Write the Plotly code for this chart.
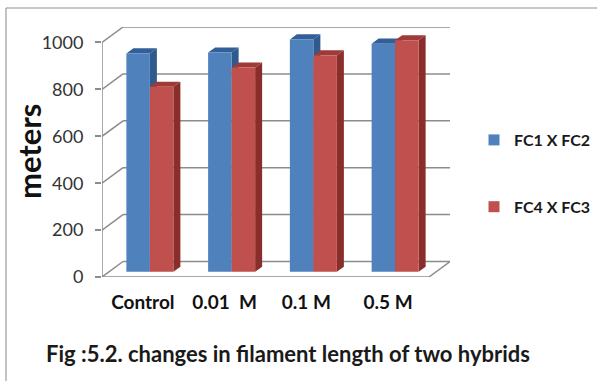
import plotly.graph_objects as go

# ---------------- data ----------------
categories = ["Control", "0.01\u00a0\u00a0M", "0.1 M", "0.5 M"]
series_names = ["FC1 X FC2", "FC4 X FC3"]
fc1_fc2 = [931, 935, 991, 973]
fc4_fc3 = [789, 871, 923, 987]
y_ticks = [0, 200, 400, 600, 800, 1000]
title_text = "Fig :5.2. changes in filament length of two hybrids"
y_title = "meters"

series_values = [fc1_fc2, fc4_fc3]
colors = {
    "front": ["#4F81BD", "#C0504D"],
    "side": ["#2F5A8E", "#8A2E2C"],
    "top": ["#335F99", "#A03A37"],
}

# ---------------- geometry / layout ----------------
W, H = 597, 381
L, R, T, B = 102, 450, 27, 277          # plot area in px
FONT = "Lato"
GRID = "#8C8C8C"

n = len(categories)
DX = 0.257          # depth offset of back wall (x units)
DY = 66             # depth offset of back wall (y units)
xr = [-0.5, n - 0.5 + DX]
yr = [0, max(y_ticks) + DY]

bw = 0.2875         # bar width (x units)
d, e = DX / 3, DY / 3   # bar depth
base = DY / 3


def px_x(p):
    return (p - L) / (R - L)


def px_y(p):
    return (B - p) / (B - T)


fig = go.Figure()

# faces drawn in paint order: series 0 (side, top, front), then series 1
for s, vals in enumerate(series_values):
    polys = {"side": ([], []), "top": ([], []), "front": ([], [])}
    for i, v in enumerate(vals):
        left = i + DX / 3 - bw + s * bw
        right = left + bw
        top = base + v
        faces = {
            "front": [(left, base), (right, base), (right, top), (left, top)],
            "side": [(right, base), (right + d, base + e), (right + d, top + e), (right, top)],
            "top": [(left, top), (right, top), (right + d, top + e), (left + d, top + e)],
        }
        for k, pts in faces.items():
            xs, ys = polys[k]
            xs.extend([p[0] for p in pts] + [pts[0][0], None])
            ys.extend([p[1] for p in pts] + [pts[0][1], None])
    for k in ["side", "top", "front"]:
        xs, ys = polys[k]
        fig.add_trace(go.Scatter(
            x=xs, y=ys, mode="lines", fill="toself",
            fillcolor=colors[k][s], line=dict(width=0, color=colors[k][s]),
            showlegend=False, hoverinfo="skip",
        ))

# legend entries
for s, name in enumerate(series_names):
    fig.add_trace(go.Scatter(
        x=[None], y=[None], mode="markers", name=name,
        marker=dict(symbol="square", size=11, color=colors["front"][s]),
        legendgroup=name,
    ))

shapes = []
# back wall gridlines and left-wall diagonals
for v in y_ticks:
    shapes.append(dict(type="line", xref="x", yref="y", x0=-0.5 + DX, x1=n - 0.5 + DX,
                       y0=v + DY, y1=v + DY, line=dict(color=GRID, width=1.5), layer="below"))
    shapes.append(dict(type="line", xref="x", yref="y", x0=-0.5, x1=-0.5 + DX,
                       y0=v, y1=v + DY, line=dict(color=GRID, width=1.5), layer="below"))
# floor front edge & right diagonal
shapes.append(dict(type="line", xref="x", yref="y", x0=-0.5, x1=n - 0.5, y0=0, y1=0,
                   line=dict(color=GRID, width=1.5), layer="below"))
shapes.append(dict(type="line", xref="x", yref="y", x0=n - 0.5, x1=n - 0.5 + DX, y0=0, y1=DY,
                   line=dict(color=GRID, width=1.5), layer="below"))
# front vertical axis
shapes.append(dict(type="line", xref="x", yref="y", x0=-0.5, x1=-0.5, y0=0, y1=max(y_ticks),
                   line=dict(color=GRID, width=1.5), layer="below"))
# x ticks at category boundaries
for k in range(n + 1):
    shapes.append(dict(type="line", xref="x", yref="y", x0=k - 0.5, x1=k - 0.5,
                       ysizemode="pixel", yanchor=0, y0=0, y1=-6,
                       line=dict(color=GRID, width=1.5)))
# outer frame (top and left)
shapes.append(dict(type="line", xref="paper", yref="paper", x0=px_x(6), x1=px_x(W),
                   y0=px_y(8), y1=px_y(8), line=dict(color="#B4B4B4", width=1.5)))
shapes.append(dict(type="line", xref="paper", yref="paper", x0=px_x(6), x1=px_x(6),
                   y0=px_y(8), y1=px_y(H + 5), line=dict(color="#9A9A9A", width=1.2)))

fig.update_layout(
    width=W, height=H,
    margin=dict(l=L, r=W - R, t=T, b=H - B, autoexpand=False),
    paper_bgcolor="white", plot_bgcolor="white",
    font=dict(family=FONT, color="#1a1a1a"),
    shapes=shapes,
    showlegend=True,
    legend=dict(
        x=px_x(474), xanchor="left", y=px_y(123), yanchor="top",
        font=dict(family=FONT, size=16, color="#1a1a1a", weight="bold"),
        tracegroupgap=43, bgcolor="rgba(0,0,0,0)", itemclick=False,
    ),
    xaxis=dict(
        range=xr, tickvals=list(range(n)), ticktext=categories,
        showgrid=False, zeroline=False, showline=False, ticks="",
        tickfont=dict(family=FONT, size=19, color="#111", weight="bold"),
        ticklabelstandoff=12, fixedrange=True,
    ),
    yaxis=dict(
        range=yr, tickvals=y_ticks, ticktext=[str(v) for v in y_ticks],
        showgrid=False, zeroline=False, showline=False,
        ticks="outside", ticklen=6, tickwidth=1.5, tickcolor=GRID,
        tickfont=dict(family=FONT, size=18, color="#333"),
        ticklabelstandoff=8, fixedrange=True,
    ),
    annotations=[
        dict(
            text=title_text, xref="paper", yref="paper", x=px_x(288), y=px_y(353),
            xanchor="center", yanchor="middle", showarrow=False,
            font=dict(family=FONT, size=22, color="#1a1a1a", weight="bold"),
        ),
        dict(
            text=y_title, xref="paper", yref="paper", x=px_x(29), y=px_y(152),
            xanchor="center", yanchor="middle", showarrow=False, textangle=-90,
            font=dict(family=FONT, size=31, color="#111", weight="bold"),
        ),
    ],
)

fig.write_html("out.html")
